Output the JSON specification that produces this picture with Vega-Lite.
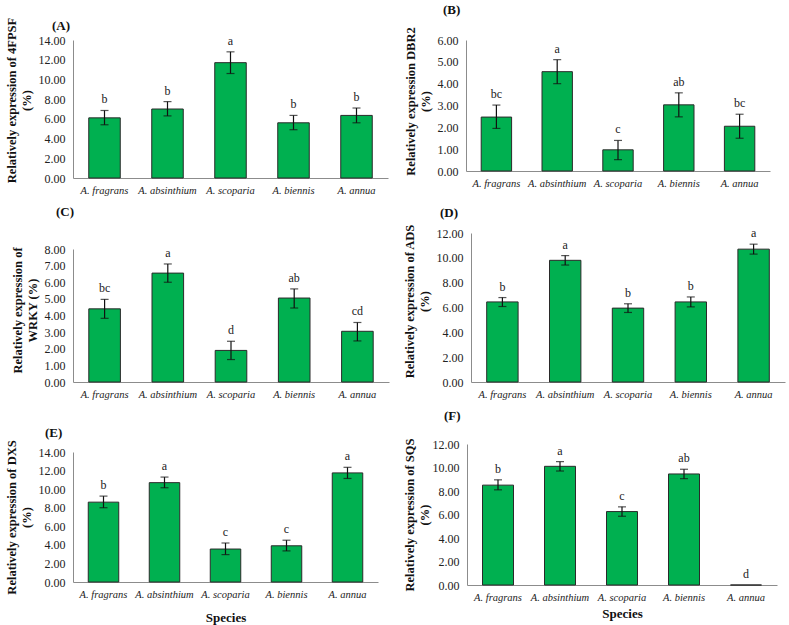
{
  "$schema": "https://vega.github.io/schema/vega-lite/v6.json",
  "padding": {"left": 5, "top": 3, "right": 4, "bottom": 1},
  "background": "white",
  "config": {
    "font": "Liberation Serif",
    "view": {"stroke": null},
    "axis": {"labelFont": "Liberation Serif", "titleFont": "Liberation Serif", "grid": false, "ticks": false, "domainColor": "#8c8c8c", "labelColor": "#222", "titleColor": "#111"},
    "axisX": {"labelAngle": 0, "labelFontStyle": "italic", "labelFontSize": 10.5, "labelPadding": 7, "titleFontSize": 13, "titleFontWeight": "bold", "titlePadding": 12},
    "axisY": {"format": ".2f", "labelFontSize": 12, "labelPadding": 8, "titleFontSize": 12.5, "titleFontWeight": "bold", "titlePadding": 5, "titleLineHeight": 15, "labelOverlap": false, "labelSeparation": 0, "labelBound": false},
    "title": {"font": "Liberation Serif", "fontSize": 13, "fontWeight": "bold", "anchor": "start", "frame": "group", "color": "#111"},
    "bar": {"fill": "#00B050", "stroke": "#2a2a2a", "strokeWidth": 1},
    "scale": {"bandPaddingInner": 0.5, "bandPaddingOuter": 0.25}
  },
  "data": {"values": [
    {"panel": "A", "species": "A. fragrans", "value": 6.1, "lo": 5.4, "hi": 6.85, "letter": "b"},
    {"panel": "A", "species": "A. absinthium", "value": 7.0, "lo": 6.3, "hi": 7.75, "letter": "b"},
    {"panel": "A", "species": "A. scoparia", "value": 11.7, "lo": 10.6, "hi": 12.8, "letter": "a"},
    {"panel": "A", "species": "A. biennis", "value": 5.6, "lo": 4.9, "hi": 6.35, "letter": "b"},
    {"panel": "A", "species": "A. annua", "value": 6.35, "lo": 5.6, "hi": 7.1, "letter": "b"},
    {"panel": "B", "species": "A. fragrans", "value": 2.47, "lo": 1.95, "hi": 3.02, "letter": "bc"},
    {"panel": "B", "species": "A. absinthium", "value": 4.55, "lo": 4.0, "hi": 5.1, "letter": "a"},
    {"panel": "B", "species": "A. scoparia", "value": 0.97, "lo": 0.52, "hi": 1.4, "letter": "c"},
    {"panel": "B", "species": "A. biennis", "value": 3.03, "lo": 2.48, "hi": 3.58, "letter": "ab"},
    {"panel": "B", "species": "A. annua", "value": 2.05, "lo": 1.5, "hi": 2.6, "letter": "bc"},
    {"panel": "C", "species": "A. fragrans", "value": 4.4, "lo": 3.83, "hi": 4.97, "letter": "bc"},
    {"panel": "C", "species": "A. absinthium", "value": 6.55, "lo": 6.0, "hi": 7.1, "letter": "a"},
    {"panel": "C", "species": "A. scoparia", "value": 1.9, "lo": 1.35, "hi": 2.45, "letter": "d"},
    {"panel": "C", "species": "A. biennis", "value": 5.05, "lo": 4.45, "hi": 5.6, "letter": "ab"},
    {"panel": "C", "species": "A. annua", "value": 3.05, "lo": 2.47, "hi": 3.58, "letter": "cd"},
    {"panel": "D", "species": "A. fragrans", "value": 6.45, "lo": 6.08, "hi": 6.8, "letter": "b"},
    {"panel": "D", "species": "A. absinthium", "value": 9.8, "lo": 9.42, "hi": 10.18, "letter": "a"},
    {"panel": "D", "species": "A. scoparia", "value": 5.95, "lo": 5.6, "hi": 6.3, "letter": "b"},
    {"panel": "D", "species": "A. biennis", "value": 6.45, "lo": 6.05, "hi": 6.85, "letter": "b"},
    {"panel": "D", "species": "A. annua", "value": 10.7, "lo": 10.3, "hi": 11.1, "letter": "a"},
    {"panel": "E", "species": "A. fragrans", "value": 8.6, "lo": 8.0, "hi": 9.25, "letter": "b"},
    {"panel": "E", "species": "A. absinthium", "value": 10.7, "lo": 10.15, "hi": 11.3, "letter": "a"},
    {"panel": "E", "species": "A. scoparia", "value": 3.55, "lo": 2.95, "hi": 4.2, "letter": "c"},
    {"panel": "E", "species": "A. biennis", "value": 3.9, "lo": 3.35, "hi": 4.5, "letter": "c"},
    {"panel": "E", "species": "A. annua", "value": 11.75, "lo": 11.15, "hi": 12.35, "letter": "a"},
    {"panel": "F", "species": "A. fragrans", "value": 8.5, "lo": 8.1, "hi": 8.95, "letter": "b"},
    {"panel": "F", "species": "A. absinthium", "value": 10.1, "lo": 9.7, "hi": 10.5, "letter": "a"},
    {"panel": "F", "species": "A. scoparia", "value": 6.25, "lo": 5.85, "hi": 6.65, "letter": "c"},
    {"panel": "F", "species": "A. biennis", "value": 9.45, "lo": 9.05, "hi": 9.85, "letter": "ab"},
    {"panel": "F", "species": "A. annua", "value": 0, "lo": 0, "hi": 0, "letter": "d"}
  ]},
  "columns": 2,
  "align": "none",
  "spacing": {"row": 10, "column": 14},
  "concat": [
    {
      "width": 315, "height": 138,
      "title": {"text": "(A)", "dx": -21, "offset": -16},
      "transform": [{"filter": "datum.panel == 'A'"}],
      "encoding": {"x": {"field": "species", "type": "nominal", "sort": ["A. fragrans", "A. absinthium", "A. scoparia", "A. biennis", "A. annua"], "title": null}},
      "layer": [
        {"mark": {"type": "bar"}, "encoding": {"y": {"field": "value", "type": "quantitative", "scale": {"domain": [0, 14]}, "axis": {"tickCount": 7, "titleY": 60}, "title": ["Relatively expression of 4FPSF", "(%)"]}}},
        {"transform": [{"filter": "datum.hi > 0"}], "mark": {"type": "rule", "color": "#111", "strokeWidth": 1.2}, "encoding": {"y": {"field": "lo", "type": "quantitative"}, "y2": {"field": "hi"}}},
        {"transform": [{"filter": "datum.hi > 0"}], "mark": {"type": "tick", "color": "#111", "thickness": 1.2, "size": 8}, "encoding": {"y": {"field": "lo", "type": "quantitative"}}},
        {"transform": [{"filter": "datum.hi > 0"}], "mark": {"type": "tick", "color": "#111", "thickness": 1.2, "size": 8}, "encoding": {"y": {"field": "hi", "type": "quantitative"}}},
        {"mark": {"type": "text", "baseline": "bottom", "dy": -4, "fontSize": 12, "color": "#222"}, "encoding": {"y": {"field": "hi", "type": "quantitative"}, "text": {"field": "letter"}}}
      ]
    },
    {
      "width": 304, "height": 131,
      "title": {"text": "(B)", "dx": -23, "offset": 10},
      "transform": [{"filter": "datum.panel == 'B'"}],
      "encoding": {"x": {"field": "species", "type": "nominal", "sort": ["A. fragrans", "A. absinthium", "A. scoparia", "A. biennis", "A. annua"], "title": null}},
      "layer": [
        {"mark": {"type": "bar"}, "encoding": {"y": {"field": "value", "type": "quantitative", "scale": {"domain": [0, 6]}, "axis": {"tickCount": 6, "titleY": 61}, "title": ["Relatively expression DBR2", "(%)"]}}},
        {"transform": [{"filter": "datum.hi > 0"}], "mark": {"type": "rule", "color": "#111", "strokeWidth": 1.2}, "encoding": {"y": {"field": "lo", "type": "quantitative"}, "y2": {"field": "hi"}}},
        {"transform": [{"filter": "datum.hi > 0"}], "mark": {"type": "tick", "color": "#111", "thickness": 1.2, "size": 8}, "encoding": {"y": {"field": "lo", "type": "quantitative"}}},
        {"transform": [{"filter": "datum.hi > 0"}], "mark": {"type": "tick", "color": "#111", "thickness": 1.2, "size": 8}, "encoding": {"y": {"field": "hi", "type": "quantitative"}}},
        {"mark": {"type": "text", "baseline": "bottom", "dy": -4, "fontSize": 12, "color": "#222"}, "encoding": {"y": {"field": "hi", "type": "quantitative"}, "text": {"field": "letter"}}}
      ]
    },
    {
      "width": 316, "height": 133,
      "title": {"text": "(C)", "dx": -17, "offset": 24},
      "transform": [{"filter": "datum.panel == 'C'"}],
      "encoding": {"x": {"field": "species", "type": "nominal", "sort": ["A. fragrans", "A. absinthium", "A. scoparia", "A. biennis", "A. annua"], "title": null}},
      "layer": [
        {"mark": {"type": "bar"}, "encoding": {"y": {"field": "value", "type": "quantitative", "scale": {"domain": [0, 8]}, "axis": {"tickCount": 8, "titleY": 61}, "title": ["Relatively expression of", "WRKY (%)"]}}},
        {"transform": [{"filter": "datum.hi > 0"}], "mark": {"type": "rule", "color": "#111", "strokeWidth": 1.2}, "encoding": {"y": {"field": "lo", "type": "quantitative"}, "y2": {"field": "hi"}}},
        {"transform": [{"filter": "datum.hi > 0"}], "mark": {"type": "tick", "color": "#111", "thickness": 1.2, "size": 8}, "encoding": {"y": {"field": "lo", "type": "quantitative"}}},
        {"transform": [{"filter": "datum.hi > 0"}], "mark": {"type": "tick", "color": "#111", "thickness": 1.2, "size": 8}, "encoding": {"y": {"field": "hi", "type": "quantitative"}}},
        {"mark": {"type": "text", "baseline": "bottom", "dy": -4, "fontSize": 12, "color": "#222"}, "encoding": {"y": {"field": "hi", "type": "quantitative"}, "text": {"field": "letter"}}}
      ]
    },
    {
      "width": 314, "height": 149,
      "title": {"text": "(D)", "dx": -31, "offset": 4},
      "transform": [{"filter": "datum.panel == 'D'"}],
      "encoding": {"x": {"field": "species", "type": "nominal", "sort": ["A. fragrans", "A. absinthium", "A. scoparia", "A. biennis", "A. annua"], "title": null}},
      "layer": [
        {"mark": {"type": "bar"}, "encoding": {"y": {"field": "value", "type": "quantitative", "scale": {"domain": [0, 12]}, "axis": {"tickCount": 6, "titleY": 68, "titlePadding": 5}, "title": ["Relatively expression of ADS", "(%)"]}}},
        {"transform": [{"filter": "datum.hi > 0"}], "mark": {"type": "rule", "color": "#111", "strokeWidth": 1.2}, "encoding": {"y": {"field": "lo", "type": "quantitative"}, "y2": {"field": "hi"}}},
        {"transform": [{"filter": "datum.hi > 0"}], "mark": {"type": "tick", "color": "#111", "thickness": 1.2, "size": 8}, "encoding": {"y": {"field": "lo", "type": "quantitative"}}},
        {"transform": [{"filter": "datum.hi > 0"}], "mark": {"type": "tick", "color": "#111", "thickness": 1.2, "size": 8}, "encoding": {"y": {"field": "hi", "type": "quantitative"}}},
        {"mark": {"type": "text", "baseline": "bottom", "dy": -4, "fontSize": 12, "color": "#222"}, "encoding": {"y": {"field": "hi", "type": "quantitative"}, "text": {"field": "letter"}}}
      ]
    },
    {
      "width": 305, "height": 130,
      "title": {"text": "(E)", "dx": -28, "offset": 0},
      "transform": [{"filter": "datum.panel == 'E'"}],
      "encoding": {"x": {"field": "species", "type": "nominal", "sort": ["A. fragrans", "A. absinthium", "A. scoparia", "A. biennis", "A. annua"], "title": "Species", "axis": {"titlePadding": 12}}},
      "layer": [
        {"mark": {"type": "bar"}, "encoding": {"y": {"field": "value", "type": "quantitative", "scale": {"domain": [0, 14]}, "axis": {"tickCount": 7}, "title": ["Relatively expression of DXS", "(%)"]}}},
        {"transform": [{"filter": "datum.hi > 0"}], "mark": {"type": "rule", "color": "#111", "strokeWidth": 1.2}, "encoding": {"y": {"field": "lo", "type": "quantitative"}, "y2": {"field": "hi"}}},
        {"transform": [{"filter": "datum.hi > 0"}], "mark": {"type": "tick", "color": "#111", "thickness": 1.2, "size": 8}, "encoding": {"y": {"field": "lo", "type": "quantitative"}}},
        {"transform": [{"filter": "datum.hi > 0"}], "mark": {"type": "tick", "color": "#111", "thickness": 1.2, "size": 8}, "encoding": {"y": {"field": "hi", "type": "quantitative"}}},
        {"mark": {"type": "text", "baseline": "bottom", "dy": -4, "fontSize": 12, "color": "#222"}, "encoding": {"y": {"field": "hi", "type": "quantitative"}, "text": {"field": "letter"}}}
      ]
    },
    {
      "width": 310, "height": 141,
      "title": {"text": "(F)", "dx": -23, "offset": 15},
      "transform": [{"filter": "datum.panel == 'F'"}],
      "encoding": {"x": {"field": "species", "type": "nominal", "sort": ["A. fragrans", "A. absinthium", "A. scoparia", "A. biennis", "A. annua"], "title": "Species", "axis": {"titlePadding": 5}}},
      "layer": [
        {"mark": {"type": "bar"}, "encoding": {"y": {"field": "value", "type": "quantitative", "scale": {"domain": [0, 12]}, "axis": {"tickCount": 6, "titlePadding": 1}, "title": ["Relatively expression of SQS", "(%)"]}}},
        {"transform": [{"filter": "datum.hi > 0"}], "mark": {"type": "rule", "color": "#111", "strokeWidth": 1.2}, "encoding": {"y": {"field": "lo", "type": "quantitative"}, "y2": {"field": "hi"}}},
        {"transform": [{"filter": "datum.hi > 0"}], "mark": {"type": "tick", "color": "#111", "thickness": 1.2, "size": 8}, "encoding": {"y": {"field": "lo", "type": "quantitative"}}},
        {"transform": [{"filter": "datum.hi > 0"}], "mark": {"type": "tick", "color": "#111", "thickness": 1.2, "size": 8}, "encoding": {"y": {"field": "hi", "type": "quantitative"}}},
        {"mark": {"type": "text", "baseline": "bottom", "dy": -4, "fontSize": 12, "color": "#222"}, "encoding": {"y": {"field": "hi", "type": "quantitative"}, "text": {"field": "letter"}}}
      ]
    }
  ]
}
